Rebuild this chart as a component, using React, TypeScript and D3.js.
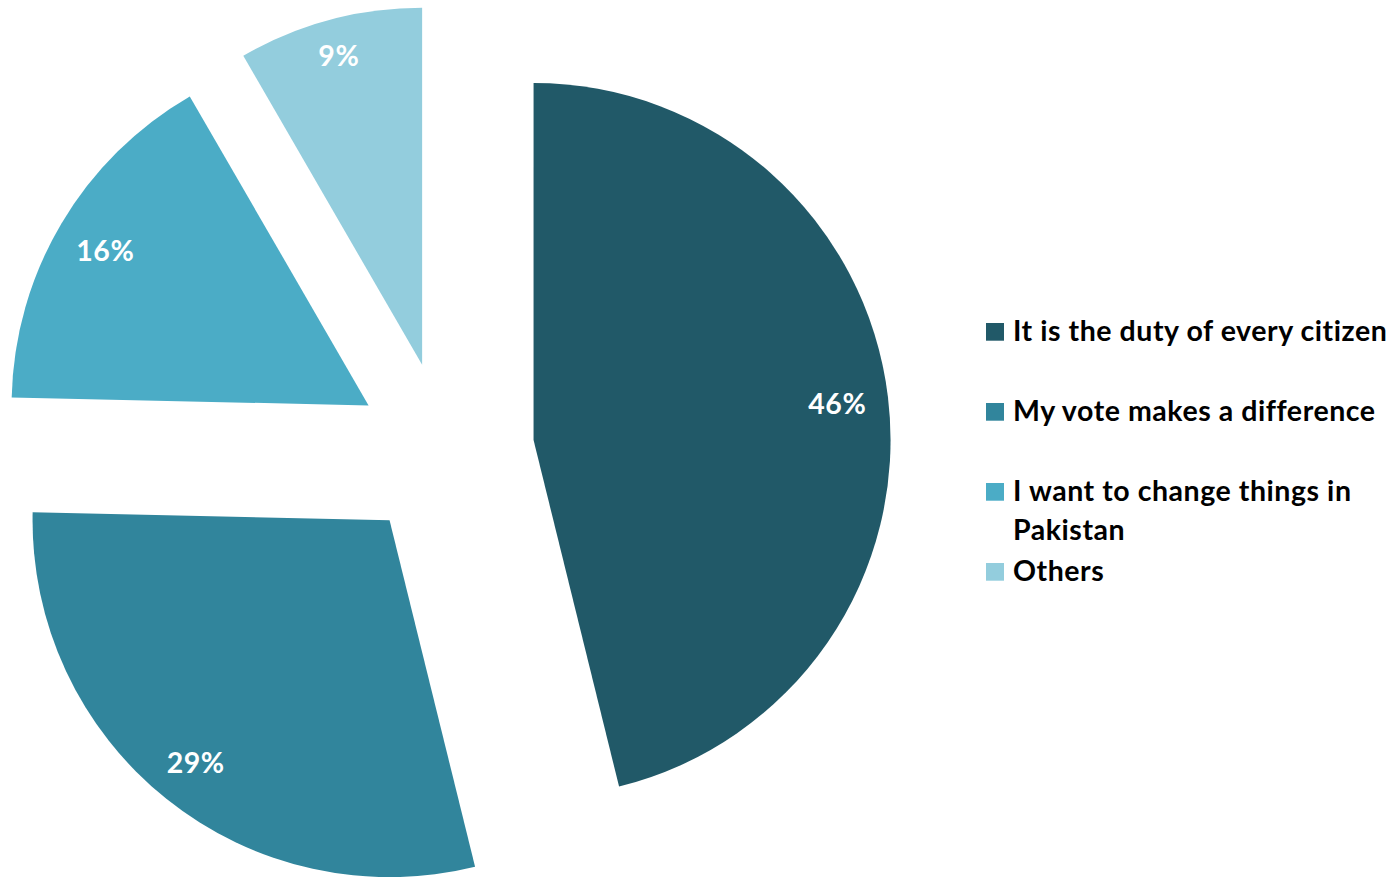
import React from "react";
import * as d3 from "d3";

const categories = [
  "It is the duty of every citizen",
  "My vote makes a difference",
  "I want to change things in Pakistan",
  "Others",
];
const values = [46.15, 29.2, 16.3, 8.35];
const valueLabels = ["46%", "29%", "16%", "9%"];
const colors = ["#215968", "#31859C", "#4BACC6", "#93CDDD"];

const W = 1392;
const H = 877;
const CX = 445.2;
const CY = 450.7;
const R = 357;
const EXPLODE = 89;
const FONT = "Lato, 'Open Sans', sans-serif";
const FS = 28.5;
const LS = 0.55;

let _ctx: CanvasRenderingContext2D | null = null;
function measure(text: string): number {
  if (!_ctx) {
    const canvas = document.createElement("canvas");
    _ctx = canvas.getContext("2d")!;
  }
  _ctx.font = `bold ${FS}px ${FONT}`;
  return _ctx.measureText(text).width + LS * text.length;
}

function wrap(text: string, maxW: number): string[] {
  const words = text.split(" ");
  const lines: string[] = [];
  let cur = "";
  for (const w of words) {
    const t = cur ? cur + " " + w : w;
    if (measure(t) > maxW && cur) {
      lines.push(cur);
      cur = w;
    } else cur = t;
  }
  if (cur) lines.push(cur);
  return lines;
}

export default function App() {
  const pie = d3
    .pie<number>()
    .sort(null)
    .value((d) => d)
    .startAngle(0)
    .endAngle(2 * Math.PI);
  const arcs = pie(values);
  const arc = d3.arc<d3.PieArcDatum<number>>().innerRadius(0).outerRadius(R);

  const legendX = 986;
  const legendTop = 340.7;
  const legendStep = 80;
  const lineH = 39;

  return (
    <svg
      width={W}
      height={H}
      style={{ position: "absolute", left: 0, top: 0, background: "#fff" }}
    >
      {arcs.map((a, i) => {
        const mid = (a.startAngle + a.endAngle) / 2;
        const ux = Math.sin(mid);
        const uy = -Math.cos(mid);
        const ox = CX + EXPLODE * ux;
        const oy = CY + EXPLODE * uy;
        const hw = measure(valueLabels[i]) / 2;
        const hh = 10;
        const t = R - 21 - (hw * Math.abs(ux) + hh * Math.abs(uy));
        return (
          <g key={i} transform={`translate(${ox},${oy})`}>
            <path d={arc(a) || ""} fill={colors[i]} />
            <text
              x={t * ux}
              y={t * uy}
              textAnchor="middle"
              dominantBaseline="central"
              fill="#fff"
              fontFamily={FONT}
              fontWeight="bold"
              fontSize={FS}
              letterSpacing={LS}
            >
              {valueLabels[i]}
            </text>
          </g>
        );
      })}
      {categories.map((c, i) => {
        const by = legendTop + i * legendStep;
        const lines = wrap(c, 400);
        return (
          <g key={c}>
            <rect x={legendX} y={by - 17.7} width={18} height={17.7} fill={colors[i]} />
            <text
              x={1013}
              y={by}
              fill="#000"
              fontFamily={FONT}
              fontWeight="bold"
              fontSize={FS}
              letterSpacing={LS}
            >
              {lines.map((l, j) => (
                <tspan key={j} x={1013} y={by + j * lineH}>
                  {l}
                </tspan>
              ))}
            </text>
          </g>
        );
      })}
    </svg>
  );
}
